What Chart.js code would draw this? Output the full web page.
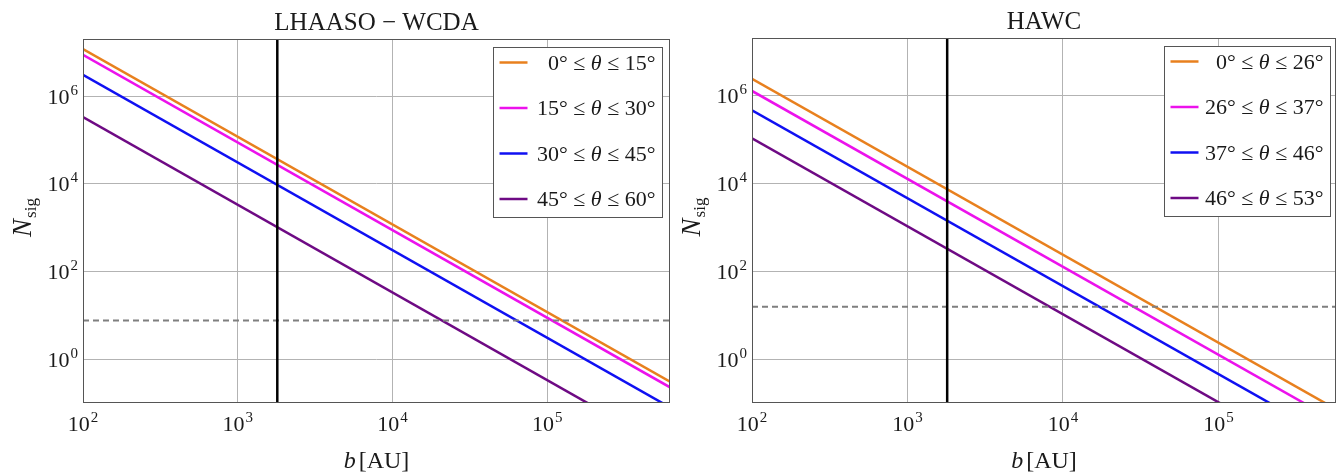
<!DOCTYPE html>
<html>
<head>
<meta charset="utf-8">
<script src="https://cdn.jsdelivr.net/npm/chart.js@4.4.1/dist/chart.umd.min.js"></script>
<style>
  body { margin: 0; background: #fff; width: 1343px; height: 475px; overflow: hidden; position: relative; }
  .panel { position: absolute; top: 0; height: 475px; }
</style>
</head>
<body>
<div class="panel" style="left:0;width:672px"><canvas id="lhaaso"></canvas></div>
<div class="panel" style="left:672px;width:671px"><canvas id="hawc"></canvas></div>
<script>
// N_sig at the first and last b of each panel
const seriesColors = ['#e8801e', '#ec12ec', '#1010f2', '#6e0a84'];

const lhaasoLabels = ['0° ≤ θ ≤ 15°', '15° ≤ θ ≤ 30°', '30° ≤ θ ≤ 45°', '45° ≤ θ ≤ 60°'];
const lhaasoB = [100, 6.2e5];
const lhaasoStart = [1.18e7, 8.75e6, 3.06e6, 3.3e5];
const lhaasoEnd = [0.307, 0.228, 0.0796, 0.0086];
const lhaasoThreshold = 7.6;

const hawcLabels = ['0° ≤ θ ≤ 26°', '26° ≤ θ ≤ 37°', '37° ≤ θ ≤ 46°', '46° ≤ θ ≤ 53°'];
const hawcB = [100, 5.7e5];
const hawcStart = [2.35e6, 1.25e6, 4.55e5, 1.04e5];
const hawcEnd = [0.0723, 0.0385, 0.014, 0.0032];
const hawcThreshold = 15.4;

const bCut = 1800;
const yRange = [0.1, 2e7];
const xTicks = [1e2, 1e3, 1e4, 1e5];
const yTicks = [1e0, 1e2, 1e4, 1e6];

const SERIF = '"Liberation Serif", "DejaVu Serif", serif';

function powLabel(ctx, exp, x, y, align) {
    ctx.font = '22px ' + SERIF;
    const w1 = ctx.measureText('10').width;
    ctx.font = '15px ' + SERIF;
    const w2 = ctx.measureText(String(exp)).width;
    const total = w1 + w2 + 1;
    let x0 = align === 'right' ? x - total : x - total / 2;
    ctx.textAlign = 'left';
    ctx.textBaseline = 'alphabetic';
    ctx.font = '22px ' + SERIF;
    ctx.fillText('10', x0, y);
    ctx.font = '15px ' + SERIF;
    ctx.fillText(String(exp), x0 + w1 + 1, y - 9);
}

const decorPlugin = {
    id: 'decor',
    afterDraw(chart) {
        const ctx = chart.ctx;
        const a = chart.chartArea;
        const o = chart.options.plugins.decor;
        const xs = chart.scales.x, ys = chart.scales.y;
        ctx.save();
        ctx.fillStyle = '#1a1a1a';

        // frame
        ctx.strokeStyle = '#555';
        ctx.lineWidth = 1;
        ctx.strokeRect(Math.round(a.left) + 0.5, Math.round(a.top) + 0.5,
            Math.round(a.right - a.left) - 1, Math.round(a.bottom - a.top) - 1);

        // tick labels
        xTicks.forEach(v => powLabel(ctx, Math.round(Math.log10(v)), xs.getPixelForValue(v), a.bottom + 28, 'center'));
        yTicks.forEach(v => powLabel(ctx, Math.round(Math.log10(v)), a.left - 5, ys.getPixelForValue(v) + 7.5, 'right'));

        // title
        ctx.textAlign = 'center';
        ctx.font = '25px ' + SERIF;
        ctx.fillText(o.title, (a.left + a.right) / 2, a.top - 9);

        // x axis title: b [AU]
        ctx.textAlign = 'left';
        ctx.font = 'italic 24px ' + SERIF;
        const wb = ctx.measureText('b').width;
        ctx.font = '24px ' + SERIF;
        const wu = ctx.measureText('[AU]').width;
        let x0 = (a.left + a.right) / 2 - (wb + 3 + wu) / 2;
        ctx.font = 'italic 24px ' + SERIF;
        ctx.fillText('b', x0, a.bottom + 65);
        ctx.font = '24px ' + SERIF;
        ctx.fillText('[AU]', x0 + wb + 3, a.bottom + 65);

        // y axis title: N_sig
        ctx.save();
        ctx.translate(a.left - 52, (a.top + a.bottom) / 2 - 3);
        ctx.rotate(-Math.PI / 2);
        ctx.font = 'italic 27px ' + SERIF;
        const wn = ctx.measureText('N').width;
        ctx.font = '17px ' + SERIF;
        const ws = ctx.measureText('sig').width;
        const u0 = -(wn + ws) / 2;
        ctx.font = 'italic 27px ' + SERIF;
        ctx.fillText('N', u0, 0);
        ctx.font = '17px ' + SERIF;
        ctx.fillText('sig', u0 + wn + 1, 5);
        ctx.restore();

        // legend box
        const bw = o.legW, bh = 170;
        const bx = Math.round(a.right - o.legR - bw) + 0.5, by = Math.round(a.top + 8) + 0.5;
        ctx.fillStyle = '#fff';
        ctx.fillRect(bx, by, bw, bh);
        ctx.strokeStyle = '#555';
        ctx.lineWidth = 1;
        ctx.strokeRect(bx, by, bw, bh);
        o.labels.forEach((lab, i) => {
            const ry = by + 15 + i * 45.5;
            ctx.strokeStyle = seriesColors[i];
            ctx.lineWidth = 2.5;
            ctx.beginPath();
            ctx.moveTo(bx + 6, ry);
            ctx.lineTo(bx + 34, ry);
            ctx.stroke();
            const [pre, post] = lab.split('θ');
            ctx.font = '22px ' + SERIF;
            const w1 = ctx.measureText(pre).width, w3 = ctx.measureText(post).width;
            ctx.font = 'italic 22px ' + SERIF;
            const w2 = ctx.measureText('θ').width;
            let tx = bx + bw - 7 - (w1 + w2 + w3);
            ctx.fillStyle = '#1a1a1a';
            ctx.font = '22px ' + SERIF;
            ctx.fillText(pre, tx, ry + 7);
            ctx.font = 'italic 22px ' + SERIF;
            ctx.fillText('θ', tx + w1, ry + 7);
            ctx.font = '22px ' + SERIF;
            ctx.fillText(post, tx + w1 + w2, ry + 7);
        });
        ctx.restore();
    }
};

function makeChart(id, cfg) {
    const datasets = cfg.labels.map((lab, i) => ({
        label: lab,
        data: [{ x: cfg.b[0], y: cfg.start[i] }, { x: cfg.b[1], y: cfg.end[i] }],
        borderColor: seriesColors[i],
        borderWidth: 2.5,
        pointRadius: 0,
        order: 2
    }));
    datasets.push({
        label: 'threshold',
        data: [{ x: cfg.b[0], y: cfg.threshold }, { x: cfg.b[1], y: cfg.threshold }],
        borderColor: '#7f7f7f',
        borderWidth: 2,
        borderDash: [6, 4],
        pointRadius: 0,
        order: 1
    });
    datasets.push({
        label: 'cut',
        data: [{ x: bCut, y: yRange[0] }, { x: bCut, y: yRange[1] }],
        borderColor: '#000',
        borderWidth: 2.5,
        pointRadius: 0,
        order: 0
    });

    const grid = { color: '#b3b3b3', lineWidth: 1, drawTicks: false };
    return new Chart(document.getElementById(id), {
        type: 'line',
        data: { datasets },
        plugins: [decorPlugin],
        options: {
            responsive: true,
            maintainAspectRatio: false,
            animation: false,
            layout: { padding: { top: cfg.top, right: cfg.right, left: 0, bottom: 0 } },
            plugins: {
                legend: { display: false },
                tooltip: { enabled: false },
                decor: { title: cfg.title, labels: cfg.labels, legW: cfg.legW, legR: cfg.legR }
            },
            scales: {
                x: {
                    type: 'logarithmic',
                    min: cfg.b[0], max: cfg.b[1],
                    afterBuildTicks: s => { s.ticks = xTicks.map(v => ({ value: v })); },
                    afterFit: s => { s.height = 72; },
                    ticks: { display: false },
                    grid, border: { display: false }
                },
                y: {
                    type: 'logarithmic',
                    min: yRange[0], max: yRange[1],
                    afterBuildTicks: s => { s.ticks = yTicks.map(v => ({ value: v })); },
                    afterFit: s => { s.width = cfg.yw; },
                    ticks: { display: false },
                    grid, border: { display: false }
                }
            }
        }
    });
}

makeChart('lhaaso', {
    title: 'LHAASO − WCDA', labels: lhaasoLabels, b: lhaasoB,
    start: lhaasoStart, end: lhaasoEnd, threshold: lhaasoThreshold,
    top: 39, right: 2, yw: 83, legW: 169, legR: 8
});
makeChart('hawc', {
    title: 'HAWC', labels: hawcLabels, b: hawcB,
    start: hawcStart, end: hawcEnd, threshold: hawcThreshold,
    top: 38, right: 7, yw: 80, legW: 166, legR: 6
});
</script>
</body>
</html>
